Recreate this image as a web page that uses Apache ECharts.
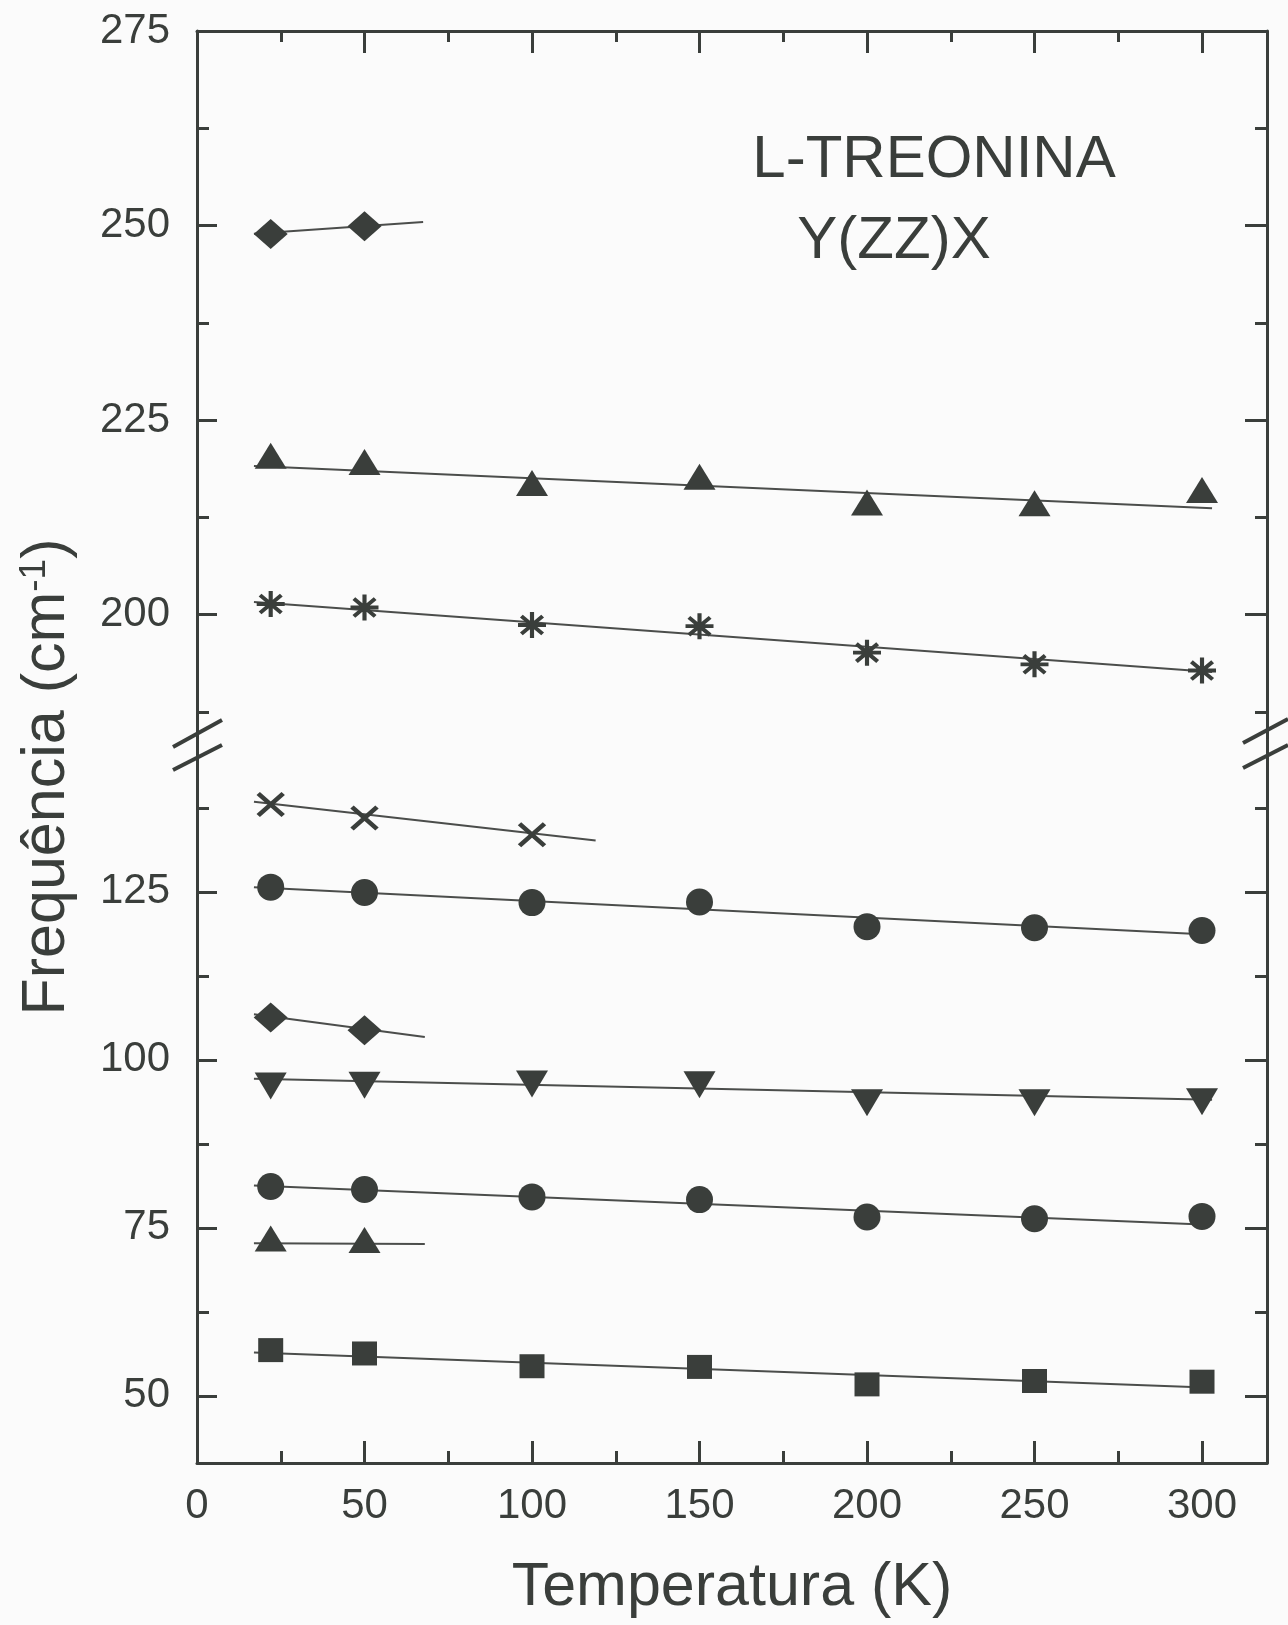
<!DOCTYPE html>
<html>
<head>
<meta charset="utf-8">
<script src="https://cdn.jsdelivr.net/npm/echarts@6/dist/echarts.min.js"></script>
<style>
html,body{margin:0;padding:0;background:#fbfbfb;}
#c{width:1288px;height:1625px;}
</style>
</head>
<body>
<div id="c"></div>
<script>
// ---- data ----
const temps = [22, 50, 100, 150, 200, 250, 300];

// lower panel (cm-1)
const sq56   = [56.8, 56.3, 54.4, 54.3, 51.7, 52.2, 52.1];
const tri73  = [73.4, 73.2];
const circ80 = [81.15, 80.7, 79.6, 79.2, 76.6, 76.35, 76.7];
const dtri96 = [96.1, 96.2, 96.4, 96.3, 93.6, 93.6, 93.75];
const dia105 = [106.3, 104.4];
const circ124= [125.7, 124.9, 123.4, 123.5, 119.8, 119.65, 119.25];
const x136   = [138.0, 136.0, 133.5];
// upper panel
const ast198 = [201.35, 200.9, 198.65, 198.5, 195.1, 193.6, 192.8];
const tri217 = [220.4, 219.6, 216.9, 217.7, 214.4, 214.3, 216.0];
const dia249 = [248.9, 249.9];

// linear fits: [T, freq] endpoints
const fitSq56   = [[17, 56.45], [303, 51.2]];
const fitTri73  = [[17, 72.7], [68, 72.6]];
const fitCirc80 = [[17, 81.3], [300, 75.5]];
const fitDtri96 = [[17, 97.2], [303, 94.05]];
const fitDia105 = [[17, 106.8], [68, 103.4]];
const fitCirc124= [[17, 125.7], [303, 118.6]];
const fitX136   = [[17, 138.4], [119, 132.65]];
const fitAst198 = [[17, 201.6], [303, 192.6]];
const fitTri217 = [[17, 219.1], [303, 213.65]];
const fitDia249 = [[17, 248.95], [67.5, 250.45]];

// tick labels
const xLabels = [0, 50, 100, 150, 200, 250, 300];
const xMajor = [50, 100, 150, 200, 250, 300];
const xMinor = [25, 75, 125, 175, 225, 275];
const yUpLabels = [200, 225, 250, 275];
const yUpMajor = [200, 225, 250];
const yUpMinor = [187.5, 212.5, 237.5, 262.5];
const yLoLabels = [50, 75, 100, 125];
const yLoMajor = [50, 75, 100, 125];
const yLoMinor = [62.5, 87.5, 112.5, 137.5];

// ---- chart ----
const INK = '#3a3e3b';
const LINE = '#4b4d4b';
const FONT = 'Liberation Sans, Arial, sans-serif';
const XMAX = 319.4;

function xAx(gi, pos, ticks, len, labels, line) {
  const a = {
    type: 'value', gridIndex: gi, position: pos, min: 0, max: XMAX,
    axisLine: {show: line, onZero: false, lineStyle: {color: INK, width: 3}},
    axisTick: {show: true, inside: true, length: len, customValues: ticks, lineStyle: {color: INK, width: 3}},
    axisLabel: {show: false},
    splitLine: {show: false}
  };
  if (labels) {
    a.axisLabel = {show: true, customValues: labels, fontSize: 42, fontFamily: FONT, color: INK, margin: 22};
  }
  return a;
}
function yAx(gi, pos, min, max, ticks, len, labels, line) {
  const a = {
    type: 'value', gridIndex: gi, position: pos, min: min, max: max,
    axisLine: {show: line, onZero: false, lineStyle: {color: INK, width: 3}},
    axisTick: {show: true, inside: true, length: len, customValues: ticks, lineStyle: {color: INK, width: 3}},
    axisLabel: {show: false},
    splitLine: {show: false}
  };
  if (labels) {
    a.axisLabel = {show: true, customValues: labels, fontSize: 42, fontFamily: FONT, color: INK, margin: 27,
                   showMinLabel: true, showMaxLabel: true};
  }
  return a;
}

const xAxis = [
  xAx(0, 'top', xMajor, 22, null, true),
  xAx(0, 'top', xMinor, 11, null, false),
  xAx(1, 'bottom', xMajor, 22, xLabels, true),
  xAx(1, 'bottom', xMinor, 12, null, false)
];
xAxis[2].name = 'Temperatura (K)';
xAxis[2].nameLocation = 'middle';
xAxis[2].nameGap = 95;
xAxis[2].nameTextStyle = {fontSize: 61, fontFamily: FONT, color: INK};

const yAxis = [
  yAx(0, 'left', 184, 275, yUpMajor, 20, yUpLabels, true),
  yAx(0, 'left', 184, 275, yUpMinor, 12, null, false),
  yAx(0, 'right', 184, 275, yUpMajor, 22, null, true),
  yAx(0, 'right', 184, 275, yUpMinor, 12, null, false),
  yAx(1, 'left', 40, 147.6, yLoMajor, 20, yLoLabels, true),
  yAx(1, 'left', 40, 147.6, yLoMinor, 12, null, false),
  yAx(1, 'right', 40, 147.6, yLoMajor, 22, null, true),
  yAx(1, 'right', 40, 147.6, yLoMinor, 12, null, false)
];

const crossPath = 'path://M0,0L10,10M10,0L0,10';
const astPath = 'path://M5,0L5,10M0,5L10,5M1.2,1.6L8.8,8.4M8.8,1.6L1.2,8.4';

function pts(vals) { return vals.map((v, i) => [temps[i], v]); }
function scat(vals, panel, symbol, size, extra) {
  const s = {
    type: 'scatter', xAxisIndex: panel ? 2 : 0, yAxisIndex: panel ? 4 : 0,
    symbol: symbol, symbolSize: size, data: pts(vals), z: 5, silent: true,
    itemStyle: {color: INK, opacity: 1}
  };
  return Object.assign(s, extra || {});
}
function fit(d, panel) {
  return {
    type: 'line', xAxisIndex: panel ? 2 : 0, yAxisIndex: panel ? 4 : 0,
    data: d, symbol: 'none', showSymbol: false, z: 3, silent: true,
    lineStyle: {color: LINE, width: 2}
  };
}
const strokeStyle = w => ({itemStyle: {color: 'none', borderColor: INK, borderWidth: w, opacity: 1}});

const series = [
  fit(fitSq56, 1), scat(sq56, 1, 'rect', [25, 24]),
  fit(fitTri73, 1), scat(tri73, 1, 'triangle', [32, 26]),
  fit(fitCirc80, 1), scat(circ80, 1, 'circle', 27),
  fit(fitDtri96, 1), scat(dtri96, 1, 'triangle', [32, 27], {symbolRotate: 180}),
  fit(fitDia105, 1), scat(dia105, 1, 'diamond', [34, 30]),
  fit(fitCirc124, 1), scat(circ124, 1, 'circle', 27),
  fit(fitX136, 1), scat(x136, 1, crossPath, [25, 22], strokeStyle(4.5)),
  fit(fitAst198, 0), scat(ast198, 0, astPath, [28, 26], strokeStyle(4)),
  fit(fitTri217, 0), scat(tri217, 0, 'triangle', [32, 26]),
  fit(fitDia249, 0), scat(dia249, 0, 'diamond', [34, 30])
];

const chart = echarts.init(document.getElementById('c'), null, {renderer: 'canvas'});
chart.setOption({
  backgroundColor: '#fbfbfb',
  animation: false,
  grid: [
    {left: 197, right: 21, top: 31, height: 708},
    {left: 197, right: 21, top: 740, height: 723}
  ],
  xAxis: xAxis,
  yAxis: yAxis,
  series: series,
  graphic: [
    {type: 'text', x: 47, y: 777, rotation: Math.PI / 2, silent: true,
     style: {text: '{a|Frequência (cm}{s|-1}{a|)}', align: 'center', verticalAlign: 'middle',
       rich: {a: {fontSize: 61, fontFamily: FONT, fill: INK},
              s: {fontSize: 37, fontFamily: FONT, fill: INK, verticalAlign: 'top'}}}},
    {type: 'text', x: 934, y: 160, silent: true,
     style: {text: 'L-TREONINA', fontSize: 60, fontFamily: FONT, fill: INK, align: 'center', verticalAlign: 'middle'}},
    {type: 'text', x: 894, y: 241, silent: true,
     style: {text: 'Y(ZZ)X', fontSize: 60, fontFamily: FONT, fill: INK, align: 'center', verticalAlign: 'middle'}},
    // axis break marks
    {type: 'line', silent: true, shape: {x1: 173, y1: 747, x2: 222, y2: 720}, style: {stroke: INK, lineWidth: 4}},
    {type: 'line', silent: true, shape: {x1: 173, y1: 770, x2: 222, y2: 745}, style: {stroke: INK, lineWidth: 4}},
    {type: 'line', silent: true, shape: {x1: 1243, y1: 743, x2: 1288, y2: 719}, style: {stroke: INK, lineWidth: 4}},
    {type: 'line', silent: true, shape: {x1: 1243, y1: 768, x2: 1288, y2: 745}, style: {stroke: INK, lineWidth: 4}}
  ]
});
</script>
</body>
</html>
